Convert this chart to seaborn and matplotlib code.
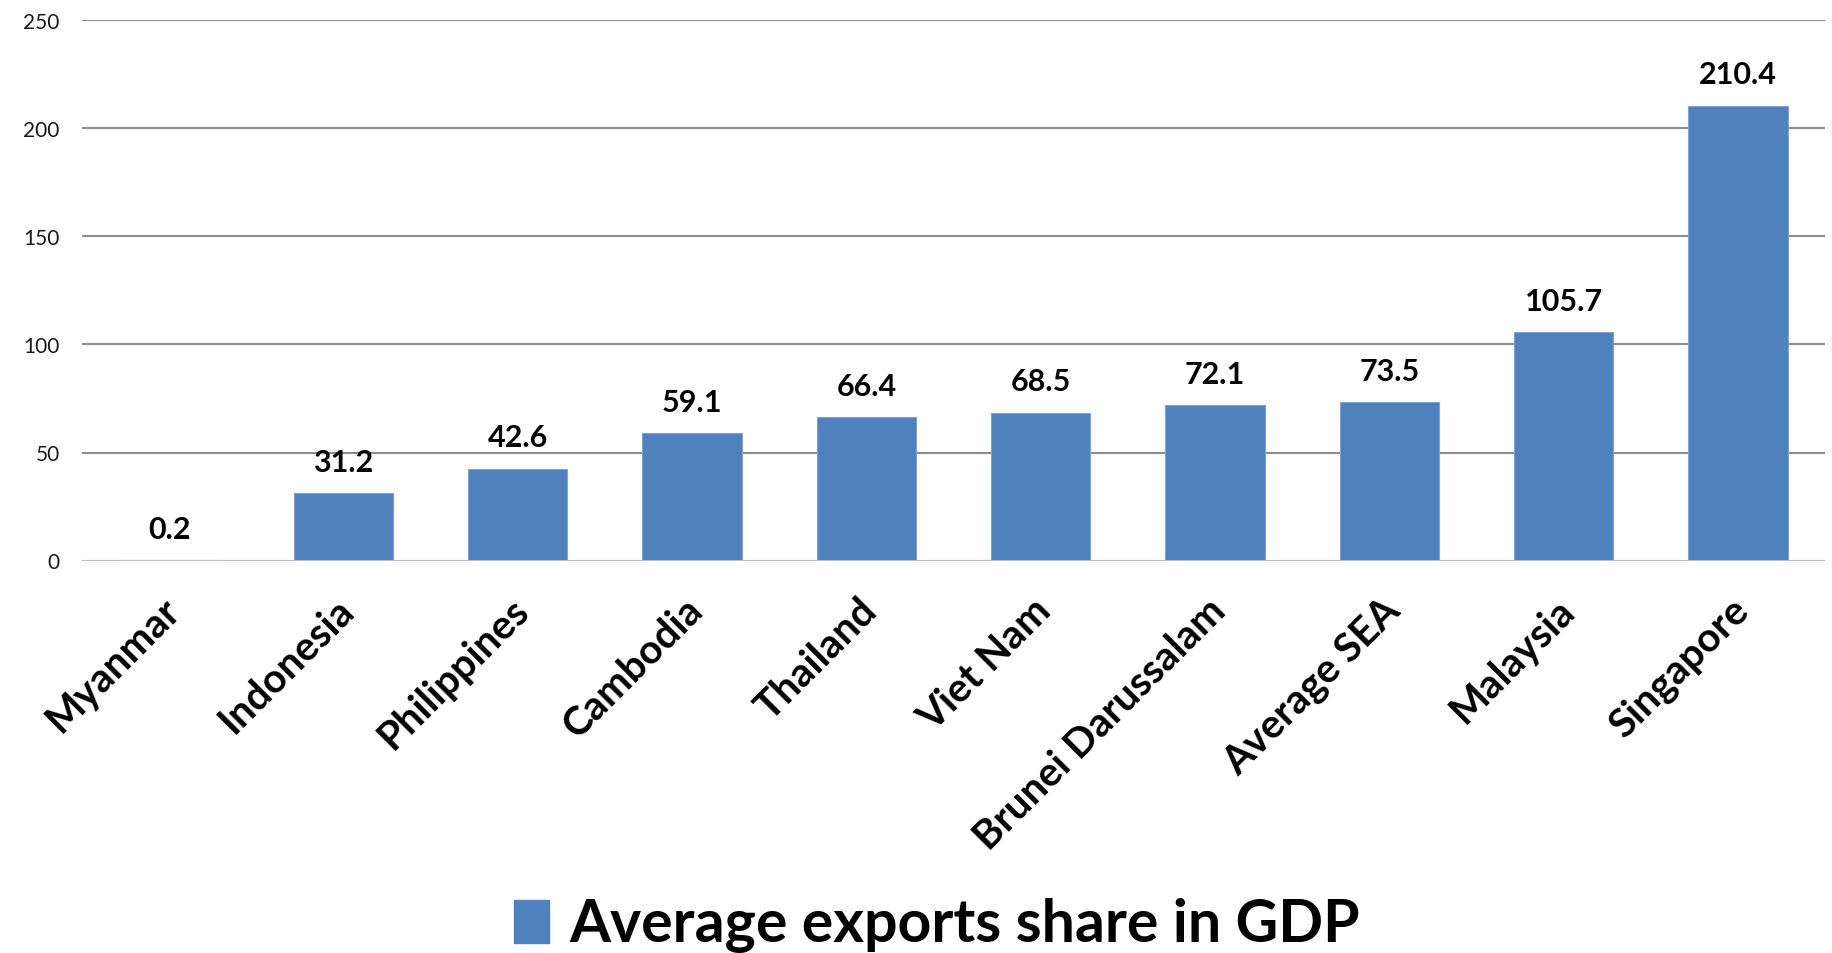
import matplotlib
matplotlib.use("Agg")
import matplotlib.pyplot as plt
import matplotlib.transforms as mtransforms
from matplotlib.patches import Patch
import seaborn as sns
import pandas as pd

# Average share of exports in GDP, South-East Asian economies
countries = ["Myanmar", "Indonesia", "Philippines", "Cambodia", "Thailand",
             "Viet Nam", "Brunei Darussalam", "Average SEA", "Malaysia", "Singapore"]
export_share = [0.2, 31.2, 42.6, 59.1, 66.4, 68.5, 72.1, 73.5, 105.7, 210.4]
y_ticks = [0, 50, 100, 150, 200, 250]
series_name = "Average exports share in GDP"

BAR_BLUE = "#4F81BD"

sns.set_theme(style="white")
plt.rcParams["font.family"] = ["Lato", "DejaVu Sans"]
plt.rcParams["text.color"] = "black"

df = pd.DataFrame({"country": countries, "share": export_share})

fig = plt.figure(figsize=(18.32, 9.535), dpi=100)
ax = fig.add_axes([0.0448, 0.4115, 0.9514, 0.567])

sns.barplot(data=df, x="country", y="share", color=BAR_BLUE, width=0.57,
            saturation=1, edgecolor="#7fa3d0", linewidth=0.8, ax=ax, zorder=3)

ax.set_xlim(-0.5, len(countries) - 0.5)
ax.set_ylim(0, 250)
ax.set_yticks(y_ticks)
ax.set_yticklabels([str(t) for t in y_ticks], fontsize=15, color="#1a1a1a")
ax.yaxis.grid(True, color="#8c8c8c", linewidth=1.5, zorder=0)
ax.set_axisbelow(True)
for side in ["top", "right", "left", "bottom"]:
    ax.spines[side].set_visible(False)
ax.axhline(0, color="#c4c4c4", linewidth=2, zorder=4)
ax.tick_params(axis="y", length=0, pad=16)
ax.tick_params(axis="x", length=0, pad=22)
ax.set_xlabel("")
ax.set_ylabel("")

ax.set_xticks(range(len(countries)))
ax.set_xticklabels(countries, rotation=45, ha="right", rotation_mode="anchor",
                   fontsize=29, fontweight="bold", color="black")
# nudge the slanted category labels slightly to the left
shift = mtransforms.ScaledTranslation(-6 / 72, 0, fig.dpi_scale_trans)
for lbl in ax.get_xticklabels():
    lbl.set_transform(lbl.get_transform() + shift)

# value labels above each bar
for i, v in enumerate(export_share):
    ax.annotate(f"{v:.1f}", xy=(i, v), xytext=(0, 12), textcoords="offset points",
                ha="center", va="bottom", fontsize=22, fontweight="bold", color="black")

handle = Patch(facecolor=BAR_BLUE, edgecolor=BAR_BLUE)
fig.legend([handle], [series_name], loc="center", bbox_to_anchor=(0.5115, 0.029),
           frameon=False, prop={"size": 42.5, "weight": "bold"}, labelcolor="black",
           handlelength=0.6, handleheight=0.75, handletextpad=0.35)

fig.savefig("out.png", dpi=100)
